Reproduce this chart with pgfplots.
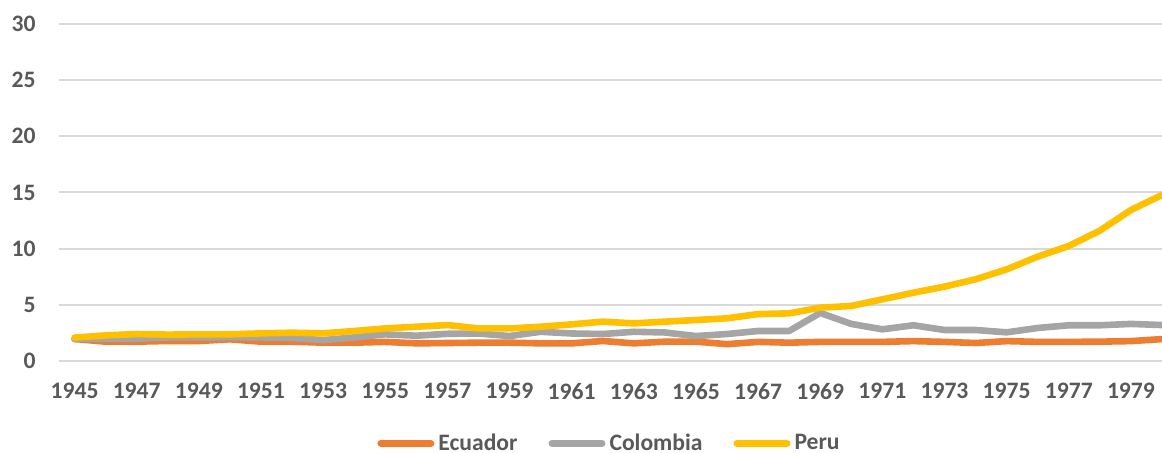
\documentclass[border=0pt]{standalone}
\usepackage{pgfplots}
\pgfplotsset{compat=1.18}
\usepackage{pgfplotstable}
\usepackage{fontspec}
\setmainfont{Carlito}
\definecolor{cEc}{HTML}{ED7D31}
\definecolor{cCo}{HTML}{A5A5A5}
\definecolor{cPe}{HTML}{FFC000}
\definecolor{txt}{HTML}{595959}
\definecolor{grd}{HTML}{D9D9D9}
\pgfplotstableread{
year ecu col per
1945 1.96 1.96 2.08
1946 1.72 1.99 2.28
1947 1.72 1.99 2.40
1948 1.78 2.10 2.35
1949 1.78 2.10 2.37
1950 1.93 2.12 2.37
1951 1.72 2.10 2.46
1952 1.72 2.05 2.52
1953 1.63 1.86 2.46
1954 1.63 2.10 2.67
1955 1.70 2.37 2.90
1956 1.57 2.25 3.05
1957 1.60 2.42 3.20
1958 1.63 2.45 2.90
1959 1.63 2.22 2.90
1960 1.57 2.60 3.05
1961 1.57 2.45 3.26
1962 1.78 2.40 3.50
1963 1.57 2.60 3.35
1964 1.72 2.54 3.50
1965 1.72 2.22 3.65
1966 1.50 2.40 3.80
1967 1.70 2.67 4.18
1968 1.63 2.67 4.24
1969 1.70 4.28 4.75
1970 1.70 3.30 4.90
1971 1.70 2.82 5.49
1972 1.77 3.18 6.08
1973 1.70 2.76 6.62
1974 1.60 2.76 7.27
1975 1.77 2.55 8.16
1976 1.70 2.94 9.29
1977 1.70 3.18 10.24
1978 1.72 3.18 11.60
1979 1.77 3.30 13.44
1980 1.95 3.20 14.78
}\datatable
\begin{document}
\begin{tikzpicture}
\useasboundingbox (-29.5pt,-46pt) rectangle (551.5pt,180.5pt);
\begin{axis}[
  at={(0,0)}, anchor=south west,
  width=551.5pt, height=168.5pt, scale only axis,
  xmin=1944.5, xmax=1980, ymin=0, ymax=30,
  xtick={1945,1947,...,1979}, ytick={0,5,...,30},
  axis line style={draw=none},
  major tick length=0pt,
  ymajorgrids, grid style={grd, line width=1pt},
  /pgf/number format/assume math mode=true,
  /pgf/number format/1000 sep={},
  ticklabel style={font=\bfseries\fontsize{11.8}{14}\selectfont, text=txt, inner sep=0pt},
  yticklabel style={anchor=east, xshift=-11.5pt},
  xticklabel style={anchor=north, yshift=-11pt},
  legend style={at={(0.5,-0.244)}, anchor=center, draw=none, fill=none,
    font=\bfseries\fontsize{11.8}{14}\selectfont, text=txt, inner sep=0pt,
    legend columns=-1,
    /tikz/every even column/.append style={column sep=13.5pt}},
  legend cell align=left,
  legend image code/.code={\draw[#1, line width=3.5pt, line cap=round] (0pt,0pt) -- (25pt,0pt);},
  every axis plot/.append style={line width=3.3pt, line join=round, line cap=round},
]
\addplot[cEc] table[x=year, y=ecu] {\datatable};
\addlegendentry{Ecuador}
\addplot[cCo] table[x=year, y=col] {\datatable};
\addlegendentry{Colombia}
\addplot[cPe] table[x=year, y=per] {\datatable};
\addlegendentry{Peru}
\end{axis}
\end{tikzpicture}
\end{document}
